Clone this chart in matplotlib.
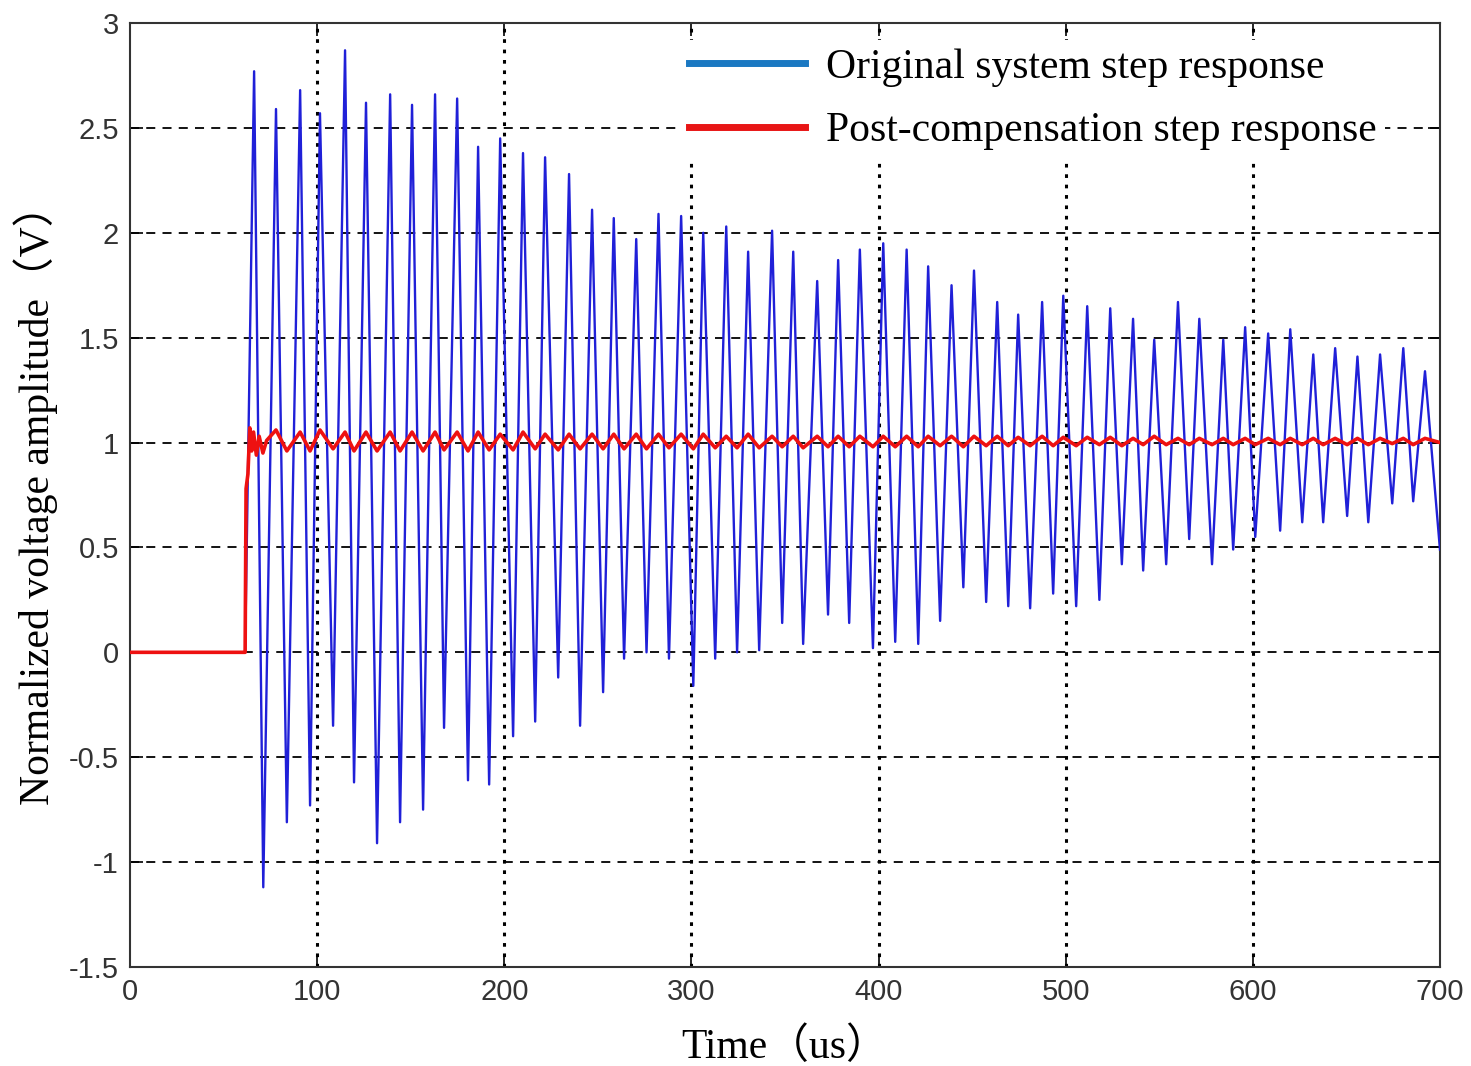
import matplotlib
matplotlib.use("Agg")
import matplotlib.pyplot as plt
from matplotlib.lines import Line2D

peak_t = [66.3, 78.0, 90.9, 101.5, 114.9, 126.1, 139.0, 150.7, 163.0, 174.8,
          186.0, 197.8, 210.0, 221.8, 234.6, 246.9, 258.5, 270.5, 282.4, 294.5,
          306.3, 318.6, 330.3, 343.1, 354.4, 367.2, 378.4, 390.0, 402.5, 415.0,
          426.5, 439.0, 451.0, 463.4, 474.6, 487.4, 498.7, 511.5, 523.8, 536.0,
          547.3, 560.0, 571.4, 584.2, 595.9, 608.2, 620.0, 632.3, 644.0, 655.9,
          668.0, 680.4, 692.0]
peak_v = [2.77, 2.59, 2.68, 2.57, 2.87, 2.62, 2.66, 2.61, 2.66, 2.64,
          2.41, 2.45, 2.38, 2.36, 2.28, 2.11, 2.07, 1.97, 2.09, 2.08,
          2.00, 2.03, 1.91, 2.01, 1.91, 1.77, 1.87, 1.92, 1.95, 1.92,
          1.84, 1.75, 1.82, 1.67, 1.61, 1.67, 1.70, 1.65, 1.64, 1.59,
          1.49, 1.67, 1.59, 1.49, 1.55, 1.52, 1.54, 1.42, 1.45, 1.41,
          1.42, 1.45, 1.34]
trough_t = [71.2, 83.8, 96.2, 108.5, 119.7, 132.0, 144.3, 156.6, 167.8, 180.6,
            191.9, 204.7, 216.5, 228.8, 240.5, 252.8, 264.0, 276.0, 288.0, 301.0,
            312.7, 324.4, 336.2, 348.5, 359.7, 373.0, 384.3, 397.0, 408.9, 421.2,
            432.9, 445.3, 457.5, 469.3, 481.0, 493.3, 505.6, 518.0, 530.0, 541.4,
            553.7, 566.0, 578.2, 589.5, 601.3, 614.6, 626.4, 637.6, 650.4, 661.7,
            674.5, 685.7]
trough_v = [-1.12, -0.81, -0.73, -0.35, -0.62, -0.91, -0.81, -0.75, -0.36, -0.61,
            -0.63, -0.40, -0.33, -0.12, -0.35, -0.19, -0.03, 0.00, -0.03, -0.16,
            -0.03, 0.00, 0.01, 0.14, 0.04, 0.18, 0.14, 0.02, 0.05, 0.04,
            0.15, 0.31, 0.24, 0.22, 0.21, 0.28, 0.22, 0.25, 0.42, 0.39,
            0.42, 0.54, 0.42, 0.49, 0.55, 0.58, 0.62, 0.62, 0.65, 0.62,
            0.71, 0.72]
step_t = 61.5
end_t, end_blue = 700.0, 0.49

# red: post-compensation response, start transient then small ripple
red_start_t = [0.0, 61.5, 62.0, 63.0, 64.0, 65.0, 66.0, 67.5, 69.0, 71.0, 73.0]
red_start_v = [0.0, 0.0, 0.78, 0.85, 1.07, 0.96, 1.05, 0.94, 1.03, 0.95, 1.01]
red_hi = [1.06, 1.05, 1.06, 1.05, 1.05, 1.05, 1.05, 1.05, 1.05, 1.05,
          1.04, 1.05, 1.04, 1.04, 1.04, 1.04, 1.04, 1.04, 1.04, 1.04,
          1.03, 1.04, 1.03, 1.03, 1.03, 1.03, 1.03, 1.03, 1.03, 1.03,
          1.03, 1.03, 1.03, 1.025, 1.03, 1.025, 1.025, 1.025, 1.02, 1.03,
          1.02, 1.02, 1.02, 1.02, 1.02, 1.02, 1.02, 1.02, 1.02, 1.02,
          1.02, 1.02]
red_lo = [0.96, 0.96, 0.97, 0.96, 0.96, 0.96, 0.96, 0.965, 0.96, 0.965,
          0.965, 0.97, 0.965, 0.97, 0.97, 0.97, 0.97, 0.975, 0.97, 0.975,
          0.975, 0.975, 0.98, 0.975, 0.98, 0.98, 0.98, 0.98, 0.98, 0.985,
          0.98, 0.985, 0.985, 0.985, 0.985, 0.985, 0.99, 0.985, 0.99, 0.99,
          0.99, 0.99, 0.99, 0.99, 0.99, 0.99, 0.99, 0.99, 0.99, 0.995,
          0.99]
end_red = 1.0

# build the polylines from the read-off extrema
blue_t = [0.0, step_t]
blue_v = [0.0, 0.0]
for i in range(len(peak_t)):
    blue_t.append(peak_t[i]); blue_v.append(peak_v[i])
    if i < len(trough_t):
        blue_t.append(trough_t[i]); blue_v.append(trough_v[i])
blue_t.append(end_t); blue_v.append(end_blue)

red_t = list(red_start_t)
red_v = list(red_start_v)
for i in range(len(red_hi)):
    red_t.append(peak_t[i + 1]); red_v.append(red_hi[i])
    if i < len(red_lo):
        red_t.append(trough_t[i + 1]); red_v.append(red_lo[i])
red_t.append(end_t); red_v.append(end_red)

serif = ['Liberation Serif', 'Noto Sans CJK SC', 'DejaVu Serif']

fig = plt.figure(figsize=(14.71, 10.66), dpi=100)
ax = fig.add_axes([0.0884, 0.0929, 0.8905, 0.8855])

ax.plot(blue_t, blue_v, color='#2020d8', lw=1.7, zorder=3)
ax.plot(red_t, red_v, color='#ee1111', lw=2.6, zorder=4)

ax.set_xlim(0, 700)
ax.set_ylim(-1.5, 3)
ax.set_xticks(range(0, 701, 100))
ax.set_yticks([-1.5, -1, -0.5, 0, 0.5, 1, 1.5, 2, 2.5, 3])
ax.set_yticklabels(['-1.5', '-1', '-0.5', '0', '0.5', '1', '1.5', '2', '2.5', '3'])
ax.tick_params(direction='in', length=9, width=1.2, top=True, right=True,
               labelsize=21, labelcolor='#333333', pad=8)
for lab in ax.get_xticklabels() + ax.get_yticklabels():
    lab.set_family('Liberation Sans')
for s in ax.spines.values():
    s.set_linewidth(1.5)
    s.set_color('#333333')

# grid: dashed horizontals, dotted verticals (inner lines only)
for y in [-1, -0.5, 0, 0.5, 1, 1.5, 2, 2.5]:
    ax.axhline(y, linestyle=(0, (5, 4)), color='black', lw=1.3, zorder=1)
for x in range(100, 700, 100):
    ax.axvline(x, linestyle=(0, (1.2, 2.2)), color='black', lw=2.2, zorder=1)

ax.set_xlabel('Time（us）', family=serif, fontsize=30, labelpad=15)
ax.set_ylabel('Normalized voltage amplitude（V）', family=serif, fontsize=30, labelpad=8)

handles = [Line2D([], [], color='#1a78c2', lw=5),
           Line2D([], [], color='#e81515', lw=5)]
leg = ax.legend(handles, ['Original system step response', 'Post-compensation step response'],
                loc='upper left', bbox_to_anchor=(0.42, 0.982), frameon=True,
                prop={'family': serif, 'size': 30}, handlelength=2.8,
                handletextpad=0.5, labelspacing=0.6, borderpad=0.2,
                borderaxespad=0, fancybox=False)
leg.set_zorder(6)
leg.get_frame().set_edgecolor('none')
leg.get_frame().set_facecolor('white')
leg.get_frame().set_alpha(1)

fig.savefig('out.png', dpi=100)
